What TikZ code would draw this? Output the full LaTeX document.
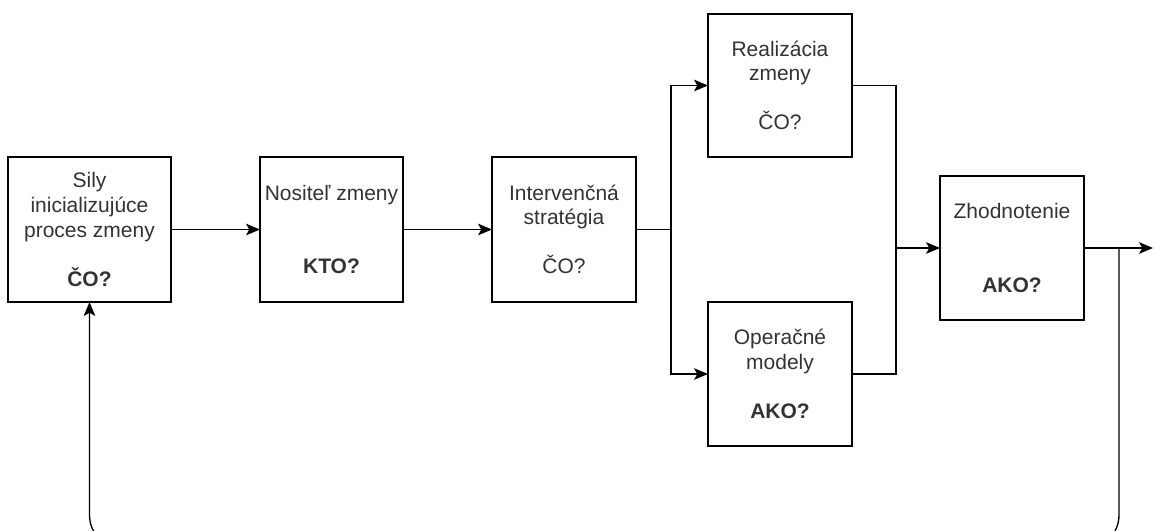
\documentclass[tikz,border=0pt]{standalone}
\usepackage{fontspec}
\setmainfont{Liberation Sans}
\usetikzlibrary{arrows.meta}
\begin{document}
\begin{tikzpicture}[x=0.75pt,y=-0.75pt,
  every node/.style={inner sep=0pt, outer sep=0pt},
  blok/.style={draw=black, line width=1pt, fill=white, align=center,
    text=black!80, font=\fontsize{15.75pt}{18.4pt}\selectfont},
  link/.style={draw=black, line width=1pt},
  arr/.style={link, -{Stealth[length=10.5pt,width=8.7pt,inset=2.5pt]}}]
\path[use as bounding box, fill=white] (0,0) rectangle (1154,531);
\begin{scope}
\clip (0,0) rectangle (1154,531);

% process blocks
\node[blok, minimum width=122.25pt, minimum height=108.75pt] (s) at (89.5,229.5)
  {Sily\\inicializujúce\\proces zmeny\\~\\\textbf{ČO?}};
\node[blok, minimum width=107.25pt, minimum height=108.75pt] (n) at (331.5,229.5)
  {Nositeľ zmeny\\~\\~\\\textbf{KTO?}};
\node[blok, minimum width=108pt, minimum height=108.75pt] (c) at (564,229.5)
  {Intervenčná\\stratégia\\~\\ČO?};
\node[blok, minimum width=108pt, minimum height=107.25pt] (r) at (780,85.5)
  {Realizácia\\zmeny\\~\\ČO?};
\node[blok, minimum width=108pt, minimum height=108pt] (o) at (780,374)
  {Operačné\\modely\\~\\\textbf{AKO?}};
\node[blok, minimum width=108pt, minimum height=108pt] (z) at (1012,248)
  {Zhodnotenie\\~\\~\\\textbf{AKO?}};

% branch points and free ends
\coordinate (j1) at (671,229.5);
\coordinate (j2) at (896,248);
\coordinate (fb) at (1119,248);
\coordinate (low) at (1119,549);
\coordinate (out) at (1153,248);

% main flow
\draw[arr] (s.east) -- (n.west);
\draw[arr] (n.east) -- (c.west);
\draw[link] (c.east) -- (j1);
\draw[arr] (j1) |- (r.west);
\draw[arr] (j1) |- (o.west);
\draw[link] (r.east) -| (j2);
\draw[link] (o.east) -| (j2);
\draw[arr] (j2) -- (z.west);
\draw[arr] (z.east) -- (out);

% feedback loop, its lower run lies below the edge of the page
\draw[arr, rounded corners=25.5pt] (fb) -- (low) -| (s.south);
\end{scope}
\end{tikzpicture}
\end{document}
